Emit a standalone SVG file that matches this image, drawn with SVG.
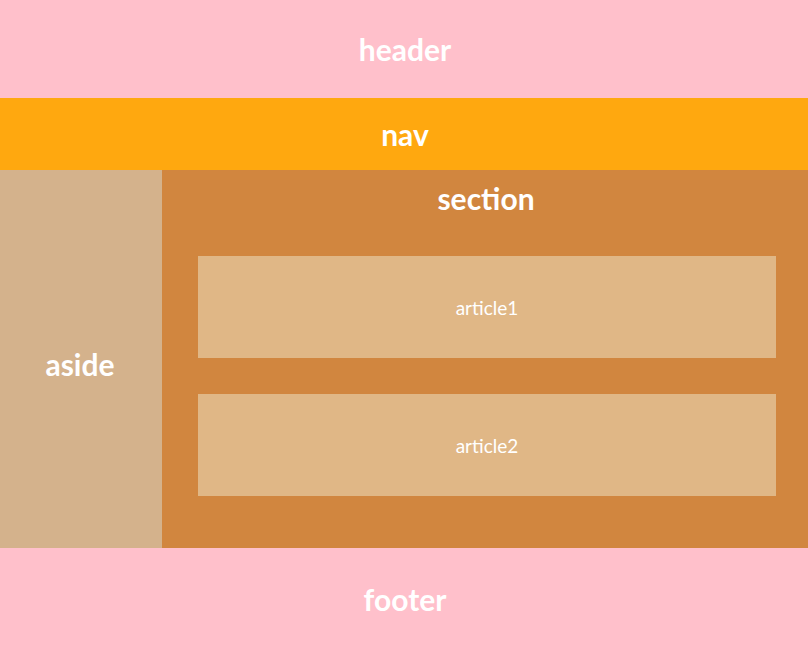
<svg xmlns="http://www.w3.org/2000/svg" width="808" height="646" viewBox="0 0 808 646">
<style>
.t{font-family:"Lato","Open Sans","Noto Sans",sans-serif;fill:#fff;text-anchor:middle;dominant-baseline:central}
.b{font-weight:bold;font-size:30px}
.r{font-size:19px}
</style>
<g id="header"><rect x="0" y="0" width="808" height="98" fill="#FFC0CB"/><text class="t b" x="405" y="49">header</text></g>
<g id="nav"><rect x="0" y="98" width="808" height="72" fill="#FFA80F"/><text class="t b" x="405" y="134">nav</text></g>
<g id="aside"><rect x="0" y="170" width="162" height="378" fill="#D4B28C"/><text class="t b" x="80" y="364">aside</text></g>
<g id="section"><rect x="162" y="170" width="646" height="378" fill="#D1863F"/><text class="t b" x="486" y="198">section</text></g>
<g id="article1"><rect x="198" y="256" width="578" height="102" fill="#E0B786"/><text class="t r" x="487" y="307">article1</text></g>
<g id="article2"><rect x="198" y="394" width="578" height="102" fill="#E0B786"/><text class="t r" x="487" y="445">article2</text></g>
<g id="footer"><rect x="0" y="548" width="808" height="98" fill="#FFC0CB"/><text class="t b" x="405" y="599">footer</text></g>
<g id="connectors"/>
</svg>
